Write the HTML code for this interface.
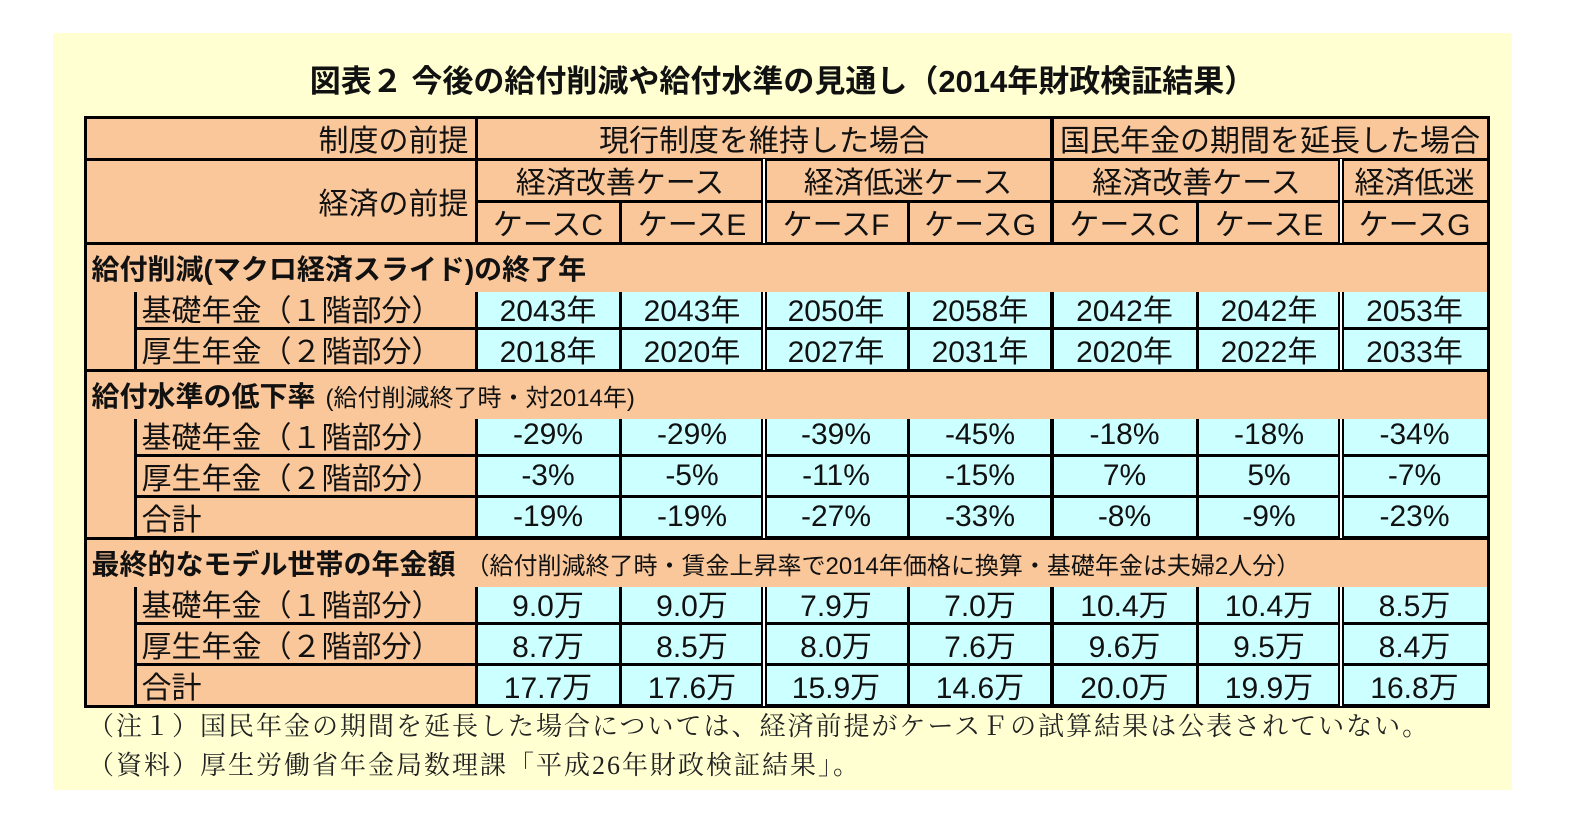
<!DOCTYPE html>
<html><head><meta charset="utf-8">
<style>
body{margin:0;width:1569px;height:814px;background:#fff;position:relative;overflow:hidden;font-family:"Liberation Sans","Noto Sans CJK JP",sans-serif;}
#bg{position:absolute;left:53px;top:33px;width:1459px;height:757px;background:#FFFFD2;}
#title{position:absolute;left:53px;width:1459px;top:56px;text-align:center;font-size:31px;font-weight:bold;color:#111;}
.c{position:absolute;box-sizing:border-box;display:flex;align-items:center;color:#111;font-size:30px;white-space:nowrap;}
.o{background:#FAC79A;} .y{background:#CCFFFF;}
.note{position:absolute;left:88px;font-size:26px;letter-spacing:2px;color:#222;font-family:"Liberation Serif","Noto Serif CJK SC",serif;}
</style></head><body>
<div id="bg"></div>
<div id="title">図表２ 今後の給付削減や給付水準の見通し（2014年財政検証結果）</div>
<div id="tbl"></div>
<div class="note" style="top:706px">（注１）国民年金の期間を延長した場合については、経済前提がケースＦの試算結果は公表されていない。</div>
<div class="note" style="top:745px">（資料）厚生労働省年金局数理課「平成26年財政検証結果」。</div>
<script>
const cases=["ケースC","ケースE","ケースF","ケースG","ケースC","ケースE","ケースG"];
const endBasic=["2043年","2043年","2050年","2058年","2042年","2042年","2053年"];
const endKosei=["2018年","2020年","2027年","2031年","2020年","2022年","2033年"];
const dropBasic=["-29%","-29%","-39%","-45%","-18%","-18%","-34%"];
const dropKosei=["-3%","-5%","-11%","-15%","7%","5%","-7%"];
const dropTotal=["-19%","-19%","-27%","-33%","-8%","-9%","-23%"];
const amtBasic=["9.0万","9.0万","7.9万","7.0万","10.4万","10.4万","8.5万"];
const amtKosei=["8.7万","8.5万","8.0万","7.6万","9.6万","9.5万","8.4万"];
const amtTotal=["17.7万","17.6万","15.9万","14.6万","20.0万","19.9万","16.8万"];

const X=[476,620,764,908,1052,1197,1341,1488];
const L=85,R=1488,T=117,B=706;
const b=document.body;
function cell(x1,y1,x2,y2,cls,txt,align,name){
  const d=document.createElement('div');
  d.className='c '+cls;
  d.style.left=(x1+1.5)+'px';d.style.top=(y1+1.5)+'px';
  d.style.width=(x2-x1-3)+'px';d.style.height=(y2-y1-3)+'px';
  d.style.justifyContent=align||'center';
  if(align==='flex-end')d.style.paddingRight='6px';
  if(align==='flex-start')d.style.paddingLeft='5px';
  d.innerHTML=txt;
  
  
  b.appendChild(d);return d;
}
const fr=document.createElement('div');
fr.style.cssText=`position:absolute;left:${L-1.5}px;top:${T-1.5}px;width:${R-L+3}px;height:${B-T+3}px;background:#000;`;


b.appendChild(fr);
cell(L,T,476,159,'o','制度の前提','flex-end','header-system-premise');
cell(476,T,1052,159,'o','現行制度を維持した場合','center','header-current-system');
cell(1052,T,R,159,'o','国民年金の期間を延長した場合','center','header-extended-system');
cell(L,159,476,243,'o','経済の前提','flex-end','header-economic-premise');
cell(476,159,764,201,'o','経済改善ケース','center','header-improve-1');
cell(764,159,1052,201,'o','経済低迷ケース','center','header-stagnant-1');
cell(1052,159,1341,201,'o','経済改善ケース','center','header-improve-2');
cell(1341,159,R,201,'o','経済低迷','center','header-stagnant-2');
for(let i=0;i<7;i++){cell(X[i],201,X[i+1],243,'o',cases[i],'center','header-case-'+(i+1));}
function section(y1,y2,title,sub,rows){
  const h=cell(L,y1,R,y1+44,'o','<b style="font-size:28px">'+title+'</b>'+(sub?'<span style="font-size:24px;font-weight:normal;margin-left:10px">'+sub+'</span>':''),'flex-start','section-'+title.slice(0,4));
  h.style.height='47px';
  h.style.zIndex=2;
  const lb=document.createElement('div');
  lb.className='c o';
  lb.style.cssText=`left:${L+1.5}px;top:${y1+20}px;width:${135-L-3}px;height:${y2-y1-21.5}px;`;
  
  
  b.appendChild(lb);
  let y=y1+44;
  rows.forEach((r,ri)=>{
    const h2=(y2-y1-44)/rows.length;
    cell(135,y,476,y+h2,'o',r[0],'flex-start','row-label-'+ri);
    for(let i=0;i<7;i++){cell(X[i],y,X[i+1],y+h2,'y',r[1][i],'center','value-'+ri+'-'+i);}
    y+=h2;
  });
}
section(243,370,'給付削減(マクロ経済スライド)の終了年','',[['基礎年金（１階部分）',endBasic],['厚生年金（２階部分）',endKosei]]);
section(370,538,'給付水準の低下率','(給付削減終了時・対2014年)',[['基礎年金（１階部分）',dropBasic],['厚生年金（２階部分）',dropKosei],['合計',dropTotal]]);
section(538,706,'最終的なモデル世帯の年金額','（給付削減終了時・賃金上昇率で2014年価格に換算・基礎年金は夫婦2人分）',[['基礎年金（１階部分）',amtBasic],['厚生年金（２階部分）',amtKosei],['合計',amtTotal]]);
function dbl(x,y1,y2){
  const k=document.createElement('div');
  k.style.cssText=`position:absolute;left:${x-3}px;top:${y1}px;width:6px;height:${y2-y1}px;background:#000;`;
  
  
  b.appendChild(k);
  const g=document.createElement('div');
  g.style.cssText=`position:absolute;left:${x-1}px;top:${y1}px;width:2px;height:${y2-y1}px;background:#fff;`;
  
  
  b.appendChild(g);
}
[[159,243],[287,370],[414,538],[582,706]].forEach(s=>{dbl(764,s[0],s[1]);dbl(1341,s[0],s[1]);});
const tk=document.createElement('div');
tk.style.cssText='position:absolute;left:1050px;top:117px;width:4px;height:589px;background:#000;z-index:1;';


b.appendChild(tk);
</script>
</body></html>
